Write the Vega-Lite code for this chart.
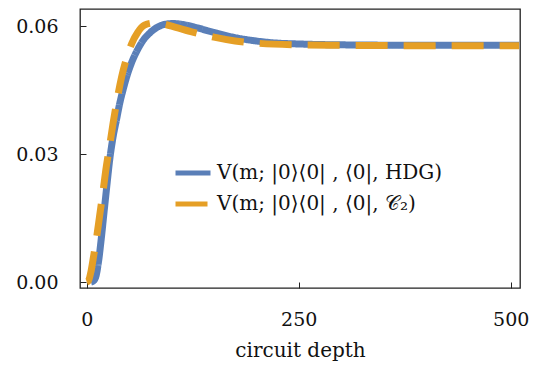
{
  "$schema": "https://vega.github.io/schema/vega-lite/v6.json",
  "autosize": {"type": "none"},
  "width": 440,
  "height": 279,
  "padding": {"left": 80, "top": 9, "right": 15, "bottom": 78},
  "background": "white",
  "config": {
    "view": {"stroke": "#222", "strokeWidth": 1.3},
    "font": "DejaVu Serif"
  },
  "data": {
    "values": [
      {"depth": 5, "v": 0.0, "series": "V(m; |0⟩⟨0| , ⟨0|, HDG)"},
      {"depth": 8, "v": 0.0003, "series": "V(m; |0⟩⟨0| , ⟨0|, HDG)"},
      {"depth": 11, "v": 0.0015, "series": "V(m; |0⟩⟨0| , ⟨0|, HDG)"},
      {"depth": 14, "v": 0.005, "series": "V(m; |0⟩⟨0| , ⟨0|, HDG)"},
      {"depth": 17, "v": 0.01, "series": "V(m; |0⟩⟨0| , ⟨0|, HDG)"},
      {"depth": 21, "v": 0.0176, "series": "V(m; |0⟩⟨0| , ⟨0|, HDG)"},
      {"depth": 24, "v": 0.0232, "series": "V(m; |0⟩⟨0| , ⟨0|, HDG)"},
      {"depth": 27, "v": 0.0286, "series": "V(m; |0⟩⟨0| , ⟨0|, HDG)"},
      {"depth": 31, "v": 0.034, "series": "V(m; |0⟩⟨0| , ⟨0|, HDG)"},
      {"depth": 35, "v": 0.038, "series": "V(m; |0⟩⟨0| , ⟨0|, HDG)"},
      {"depth": 39, "v": 0.042, "series": "V(m; |0⟩⟨0| , ⟨0|, HDG)"},
      {"depth": 43, "v": 0.0452, "series": "V(m; |0⟩⟨0| , ⟨0|, HDG)"},
      {"depth": 48, "v": 0.0487, "series": "V(m; |0⟩⟨0| , ⟨0|, HDG)"},
      {"depth": 53, "v": 0.0515, "series": "V(m; |0⟩⟨0| , ⟨0|, HDG)"},
      {"depth": 60, "v": 0.0545, "series": "V(m; |0⟩⟨0| , ⟨0|, HDG)"},
      {"depth": 67, "v": 0.0568, "series": "V(m; |0⟩⟨0| , ⟨0|, HDG)"},
      {"depth": 75, "v": 0.0585, "series": "V(m; |0⟩⟨0| , ⟨0|, HDG)"},
      {"depth": 83, "v": 0.0597, "series": "V(m; |0⟩⟨0| , ⟨0|, HDG)"},
      {"depth": 92, "v": 0.0604, "series": "V(m; |0⟩⟨0| , ⟨0|, HDG)"},
      {"depth": 102, "v": 0.0606, "series": "V(m; |0⟩⟨0| , ⟨0|, HDG)"},
      {"depth": 115, "v": 0.0603, "series": "V(m; |0⟩⟨0| , ⟨0|, HDG)"},
      {"depth": 130, "v": 0.0596, "series": "V(m; |0⟩⟨0| , ⟨0|, HDG)"},
      {"depth": 150, "v": 0.0585, "series": "V(m; |0⟩⟨0| , ⟨0|, HDG)"},
      {"depth": 175, "v": 0.0573, "series": "V(m; |0⟩⟨0| , ⟨0|, HDG)"},
      {"depth": 200, "v": 0.0565, "series": "V(m; |0⟩⟨0| , ⟨0|, HDG)"},
      {"depth": 225, "v": 0.056, "series": "V(m; |0⟩⟨0| , ⟨0|, HDG)"},
      {"depth": 250, "v": 0.0558, "series": "V(m; |0⟩⟨0| , ⟨0|, HDG)"},
      {"depth": 300, "v": 0.0556, "series": "V(m; |0⟩⟨0| , ⟨0|, HDG)"},
      {"depth": 400, "v": 0.0555, "series": "V(m; |0⟩⟨0| , ⟨0|, HDG)"},
      {"depth": 510, "v": 0.0555, "series": "V(m; |0⟩⟨0| , ⟨0|, HDG)"},
      {"depth": 0, "v": 0.0, "series": "V(m; |0⟩⟨0| , ⟨0|, 𝒞₂)"},
      {"depth": 2, "v": 0.0003, "series": "V(m; |0⟩⟨0| , ⟨0|, 𝒞₂)"},
      {"depth": 5, "v": 0.0025, "series": "V(m; |0⟩⟨0| , ⟨0|, 𝒞₂)"},
      {"depth": 8, "v": 0.006, "series": "V(m; |0⟩⟨0| , ⟨0|, 𝒞₂)"},
      {"depth": 12, "v": 0.011, "series": "V(m; |0⟩⟨0| , ⟨0|, 𝒞₂)"},
      {"depth": 15, "v": 0.0153, "series": "V(m; |0⟩⟨0| , ⟨0|, 𝒞₂)"},
      {"depth": 19, "v": 0.021, "series": "V(m; |0⟩⟨0| , ⟨0|, 𝒞₂)"},
      {"depth": 23, "v": 0.027, "series": "V(m; |0⟩⟨0| , ⟨0|, 𝒞₂)"},
      {"depth": 27, "v": 0.032, "series": "V(m; |0⟩⟨0| , ⟨0|, 𝒞₂)"},
      {"depth": 31, "v": 0.0372, "series": "V(m; |0⟩⟨0| , ⟨0|, 𝒞₂)"},
      {"depth": 36, "v": 0.043, "series": "V(m; |0⟩⟨0| , ⟨0|, 𝒞₂)"},
      {"depth": 41, "v": 0.048, "series": "V(m; |0⟩⟨0| , ⟨0|, 𝒞₂)"},
      {"depth": 47, "v": 0.0525, "series": "V(m; |0⟩⟨0| , ⟨0|, 𝒞₂)"},
      {"depth": 53, "v": 0.0559, "series": "V(m; |0⟩⟨0| , ⟨0|, 𝒞₂)"},
      {"depth": 60, "v": 0.0585, "series": "V(m; |0⟩⟨0| , ⟨0|, 𝒞₂)"},
      {"depth": 68, "v": 0.0602, "series": "V(m; |0⟩⟨0| , ⟨0|, 𝒞₂)"},
      {"depth": 78, "v": 0.0607, "series": "V(m; |0⟩⟨0| , ⟨0|, 𝒞₂)"},
      {"depth": 90, "v": 0.0605, "series": "V(m; |0⟩⟨0| , ⟨0|, 𝒞₂)"},
      {"depth": 105, "v": 0.0597, "series": "V(m; |0⟩⟨0| , ⟨0|, 𝒞₂)"},
      {"depth": 125, "v": 0.0586, "series": "V(m; |0⟩⟨0| , ⟨0|, 𝒞₂)"},
      {"depth": 150, "v": 0.0574, "series": "V(m; |0⟩⟨0| , ⟨0|, 𝒞₂)"},
      {"depth": 175, "v": 0.0565, "series": "V(m; |0⟩⟨0| , ⟨0|, 𝒞₂)"},
      {"depth": 200, "v": 0.056, "series": "V(m; |0⟩⟨0| , ⟨0|, 𝒞₂)"},
      {"depth": 250, "v": 0.0556, "series": "V(m; |0⟩⟨0| , ⟨0|, 𝒞₂)"},
      {"depth": 300, "v": 0.0555, "series": "V(m; |0⟩⟨0| , ⟨0|, 𝒞₂)"},
      {"depth": 400, "v": 0.0554, "series": "V(m; |0⟩⟨0| , ⟨0|, 𝒞₂)"},
      {"depth": 510, "v": 0.0554, "series": "V(m; |0⟩⟨0| , ⟨0|, 𝒞₂)"}
    ]
  },
  "mark": {"type": "line", "strokeWidth": 7, "interpolate": "monotone", "clip": true},
  "encoding": {
    "x": {
      "field": "depth", "type": "quantitative",
      "scale": {"domain": [-8, 511], "nice": false, "zero": false},
      "axis": {
        "title": "circuit depth", "values": [0, 250, 500], "grid": false,
        "domain": false, "tickSize": -6, "tickColor": "#222", "labelPadding": 28,
        "labelFont": "DejaVu Serif", "labelFontSize": 19, "labelColor": "#111",
        "titleFont": "DejaVu Serif", "titleFontSize": 20, "titleFontWeight": "normal",
        "titleColor": "#111", "titlePadding": 11
      }
    },
    "y": {
      "field": "v", "type": "quantitative",
      "scale": {"domain": [-0.0014, 0.064], "nice": false, "zero": false},
      "axis": {
        "title": null, "values": [0, 0.03, 0.06], "format": ".2f", "grid": false,
        "domain": false, "tickSize": -6, "tickColor": "#222", "labelPadding": 28,
        "labelFont": "DejaVu Serif", "labelFontSize": 19, "labelColor": "#111"
      }
    },
    "color": {
      "field": "series", "type": "nominal",
      "scale": {"range": ["#5a7fb8", "#e59f26"]},
      "legend": {
        "title": null, "orient": "none", "legendX": 93, "legendY": 144,
        "symbolType": "stroke", "symbolSize": 1225, "symbolStrokeWidth": 5,
        "labelFont": "DejaVu Serif", "labelFontSize": 20, "labelColor": "#111",
        "rowPadding": 1, "labelOffset": 4, "labelLimit": 400,
        "encode": {
          "symbols": {
            "update": {
              "strokeDash": {"signal": "indexof(datum.label, 'HDG') >= 0 ? [1, 0] : [13, 6]"}
            }
          }
        }
      }
    },
    "strokeDash": {
      "field": "series", "type": "nominal",
      "scale": {"range": [[1, 0], [32, 16]]},
      "legend": null
    }
  }
}
